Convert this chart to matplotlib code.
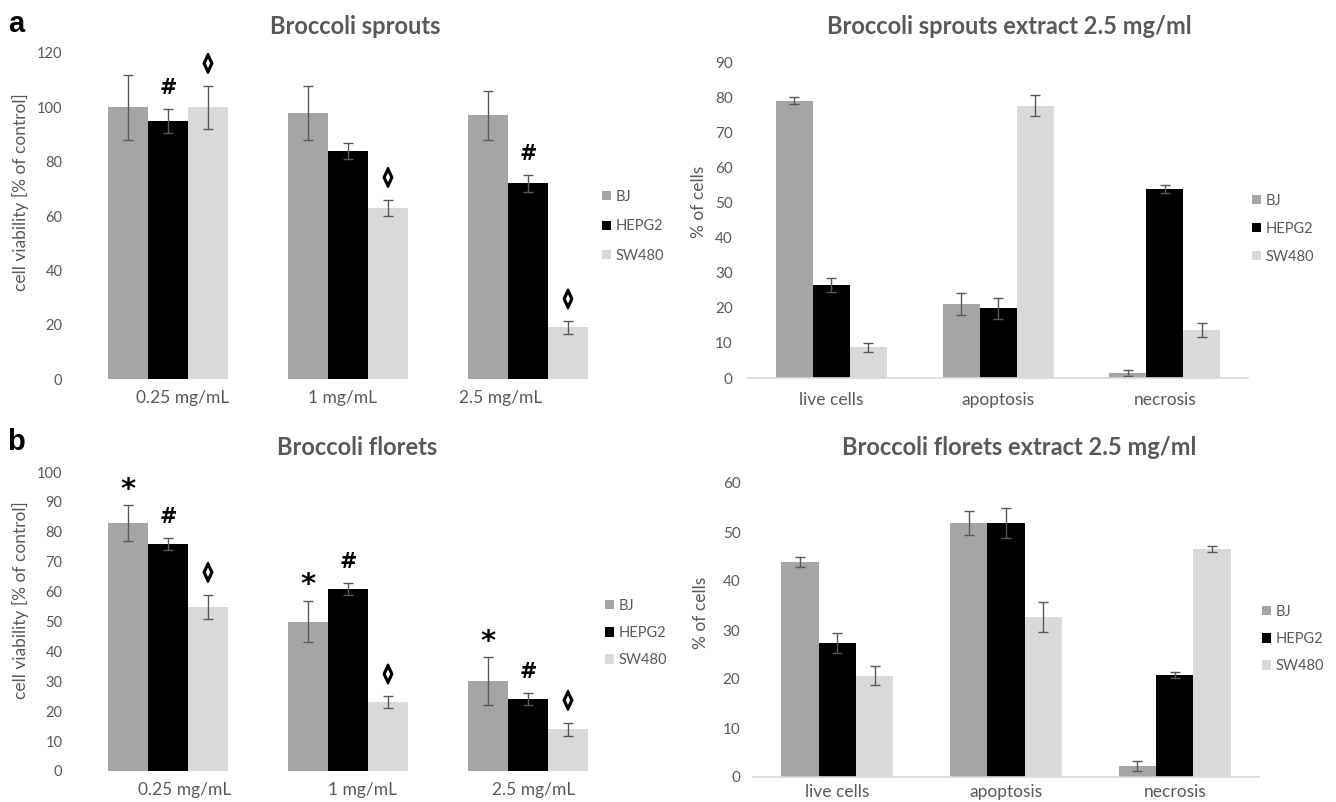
import matplotlib
matplotlib.use("Agg")
import matplotlib.pyplot as plt
import matplotlib.patheffects as pe
import numpy as np

plt.rcParams['font.family'] = ['Lato', 'DejaVu Sans']

# data
cell_lines = ["BJ", "HEPG2", "SW480"]
doses = ["0.25 mg/mL", "1 mg/mL", "2.5 mg/mL"]
fates = ["live cells", "apoptosis", "necrosis"]

# (a) broccoli sprouts, viability
sprout_bj = [100, 98, 97]
sprout_bj_err = [12, 10, 9]
sprout_hepg2 = [95, 84, 72]
sprout_hepg2_err = [4.5, 3, 3]
sprout_sw480 = [100, 63, 19]
sprout_sw480_err = [8, 3, 2.3]
sprout_marks = [(0, 1, "#"), (0, 2, "◊"), (1, 2, "◊"), (2, 1, "#"), (2, 2, "◊")]

# (a) broccoli sprouts extract 2.5 mg/ml, cell fate
sprout_fate_bj = [79, 21, 1.5]
sprout_fate_bj_err = [0.9, 3.1, 0.9]
sprout_fate_hepg2 = [26.5, 19.8, 53.9]
sprout_fate_hepg2_err = [2.0, 3.1, 1.2]
sprout_fate_sw480 = [8.7, 77.5, 13.7]
sprout_fate_sw480_err = [1.2, 3.0, 2.0]

# (b) broccoli florets, viability
floret_bj = [83, 50, 30]
floret_bj_err = [6, 7, 8]
floret_hepg2 = [76, 61, 24]
floret_hepg2_err = [2, 2, 2]
floret_sw480 = [55, 23, 14]
floret_sw480_err = [4, 2, 2.2]
floret_marks = [(0, 0, "*"), (0, 1, "#"), (0, 2, "◊"),
                (1, 0, "*"), (1, 1, "#"), (1, 2, "◊"),
                (2, 0, "*"), (2, 1, "#"), (2, 2, "◊")]

# (b) broccoli florets extract 2.5 mg/ml, cell fate
floret_fate_bj = [43.8, 51.8, 2.2]
floret_fate_bj_err = [1.0, 2.5, 1.0]
floret_fate_hepg2 = [27.3, 51.8, 20.9]
floret_fate_hepg2_err = [2.0, 3.0, 0.6]
floret_fate_sw480 = [20.7, 32.7, 46.6]
floret_fate_sw480_err = [2.0, 3.1, 0.6]

COLORS = ["#a5a5a5", "#000000", "#d9d9d9"]
TXT = "#595959"
W, H = 1336, 802
BW = 0.222
# symbol -> (font size, offset above error bar in points, stroke width)
MARK_STYLE = {"#": (15, 15, 0), "◊": (13, 16, 1.6), "*": (21, 11, 0)}

fig = plt.figure(figsize=(W / 100, H / 100), dpi=100)


def px_axes(l, t, r, b):
    return fig.add_axes([l / W, 1 - b / H, (r - l) / W, (b - t) / H])


def grouped_bars(ax, series, errors):
    x = np.arange(3)
    for i, (vals, err) in enumerate(zip(series, errors)):
        ax.bar(x + (i - 1) * BW, vals, BW, yerr=err, color=COLORS[i],
               label=cell_lines[i], linewidth=0,
               error_kw=dict(ecolor=TXT, elinewidth=1, capsize=3.5, capthick=1))
    return x


def add_legend(ax, left, top, spacing):
    ax.legend(loc="upper left", bbox_to_anchor=(left / W, 1 - top / H),
              bbox_transform=fig.transFigure, frameon=False, fontsize=10.5,
              handlelength=0.6, handleheight=0.6, handletextpad=0.35,
              labelspacing=spacing, borderpad=0, borderaxespad=0,
              labelcolor=TXT)


def viability_panel(box, series, errors, marks, ymax, step, label_shift, leg):
    ax = px_axes(*box)
    x = grouped_bars(ax, series, errors)
    l, t, r, b = box
    ax.set_xlim((l - 168) / 180, (r - 168) / 180)
    ax.set_ylim(0, ymax)
    ax.set_yticks(np.arange(0, ymax + 1, step))
    ax.set_xticks(x + np.array(label_shift))
    ax.set_xticklabels(doses)
    for s in ax.spines.values():
        s.set_visible(False)
    ax.tick_params(axis="y", length=0, pad=5.5, labelsize=10.5, labelcolor=TXT)
    ax.tick_params(axis="x", length=0, pad=8, labelsize=12.5, labelcolor=TXT)
    for g, k, sym in marks:
        size, off, stroke = MARK_STYLE[sym]
        top = series[k][g] + errors[k][g]
        t = ax.annotate(sym, (g + (k - 1) * BW, top), xytext=(0, off),
                        textcoords="offset points", ha="center", va="center",
                        fontsize=size, fontweight="bold", color="black",
                        family="DejaVu Sans")
        if stroke:
            t.set_path_effects([pe.withStroke(linewidth=stroke, foreground="black")])
    add_legend(ax, *leg)
    return ax


def fate_panel(box, series, errors, ymax, xpad, ypad, leg):
    ax = px_axes(*box)
    x = grouped_bars(ax, series, errors)
    ax.set_xlim(-0.5, 2.5)
    ax.set_ylim(0, ymax)
    ax.set_yticks(np.arange(0, ymax + 1, 10))
    ax.set_xticks(x)
    ax.set_xticklabels(fates)
    for name, s in ax.spines.items():
        s.set_visible(name == "bottom")
    ax.spines["bottom"].set_color("#d9d9d9")
    ax.spines["bottom"].set_linewidth(1.2)
    ax.tick_params(axis="y", length=0, pad=ypad, labelsize=11, labelcolor=TXT)
    ax.tick_params(axis="x", length=0, pad=xpad, labelsize=12.5, labelcolor=TXT)
    add_legend(ax, *leg)
    return ax


viability_panel((70, 53, 600, 379),
                [sprout_bj, sprout_hepg2, sprout_sw480],
                [sprout_bj_err, sprout_hepg2_err, sprout_sw480_err],
                sprout_marks, 120, 20, [0.08, -0.03, -0.15], (602, 190, 1.05))
fate_panel((748, 62, 1248, 378),
           [sprout_fate_bj, sprout_fate_hepg2, sprout_fate_sw480],
           [sprout_fate_bj_err, sprout_fate_hepg2_err, sprout_fate_sw480_err],
           90, 10, 11, (1252, 194, 0.95))
viability_panel((70, 472, 600, 771),
                [floret_bj, floret_hepg2, floret_sw480],
                [floret_bj_err, floret_hepg2_err, floret_sw480_err],
                floret_marks, 100, 10, [0.09, 0.08, 0.03], (605, 599, 0.9))
fate_panel((753, 483, 1259, 777),
           [floret_fate_bj, floret_fate_hepg2, floret_fate_sw480],
           [floret_fate_bj_err, floret_fate_hepg2_err, floret_fate_sw480_err],
           60, 5, 9, (1262, 605, 0.9))

# titles, axis labels, panel letters
title_kw = dict(fontsize=17, fontweight="bold", color=TXT, ha="center", va="center")
fig.text(355 / W, 1 - 26 / H, "Broccoli sprouts", **title_kw)
fig.text(1009 / W, 1 - 26 / H, "Broccoli sprouts extract 2.5 mg/ml", **title_kw)
fig.text(357 / W, 1 - 448 / H, "Broccoli florets", **title_kw)
fig.text(1019 / W, 1 - 448 / H, "Broccoli florets extract 2.5 mg/ml", **title_kw)

ylab_kw = dict(fontsize=12.5, color=TXT, rotation=90, ha="center", va="center")
fig.text(20 / W, 1 - 192 / H, "cell viability [% of control]", **ylab_kw)
fig.text(20 / W, 1 - 600 / H, "cell viability [% of control]", **ylab_kw)
fig.text(699 / W, 1 - 202 / H, "% of cells", **ylab_kw)
fig.text(701 / W, 1 - 613 / H, "% of cells", **ylab_kw)

letter_kw = dict(fontsize=21, fontweight="bold", ha="center", va="center",
                 family="Liberation Sans")
fig.text(16 / W, 1 - 24 / H, "a", **letter_kw)
fig.text(16 / W, 1 - 442 / H, "b", **letter_kw)

fig.savefig("out.png", dpi=100)
